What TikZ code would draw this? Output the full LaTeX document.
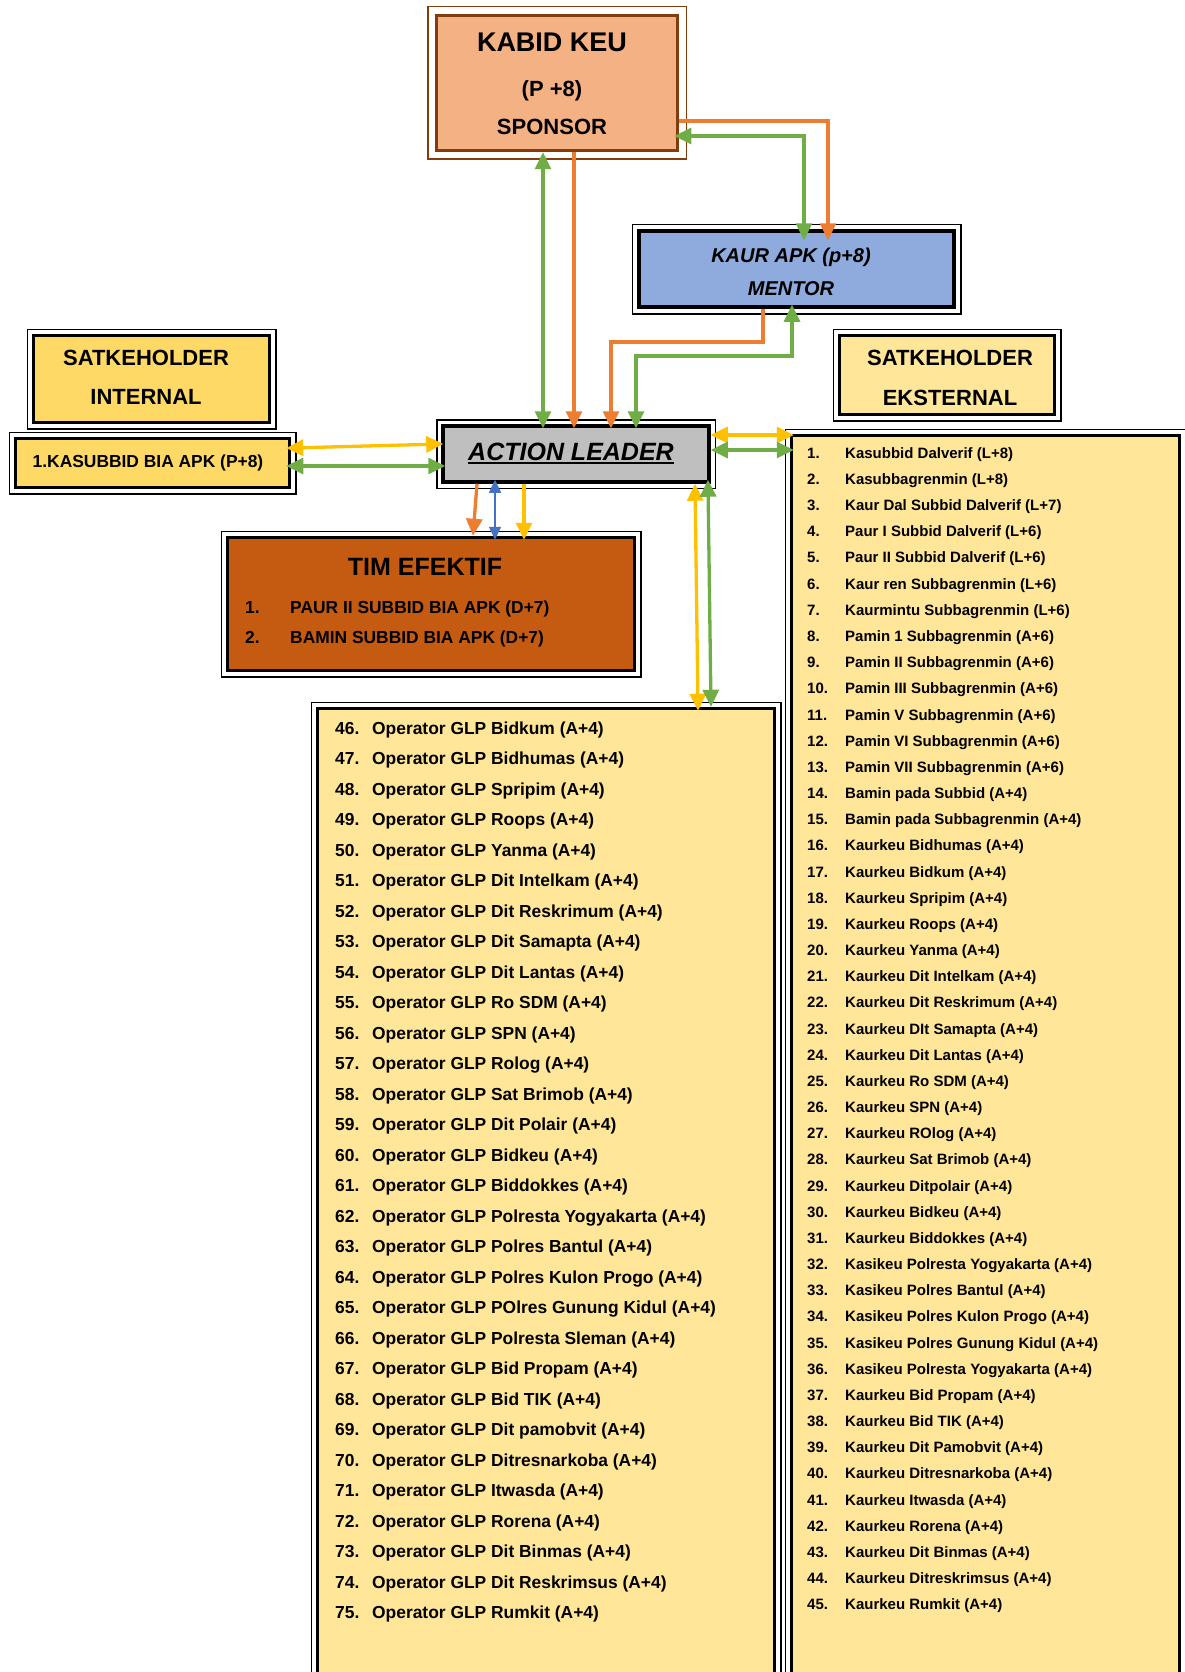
\documentclass[tikz,border=0pt]{standalone}
\usepackage{fontspec}
\setmainfont{Liberation Sans}
\usetikzlibrary{arrows.meta}

\definecolor{sponsorfill}{HTML}{F4B183}
\definecolor{sponsorline}{HTML}{843C0C}
\definecolor{mentorfill}{HTML}{8FAADC}
\definecolor{gold}{HTML}{FFD966}
\definecolor{cream}{HTML}{FFE699}
\definecolor{rust}{HTML}{C55A11}
\definecolor{lngreen}{HTML}{70AD47}
\definecolor{lnorange}{HTML}{ED7D31}
\definecolor{lnyellow}{HTML}{FFC000}
\definecolor{lnblue}{HTML}{4472C4}

\newcommand{\ulthick}[1]{\setbox0\hbox{#1}\rlap{\rule[-4pt]{\wd0}{2.5pt}}\box0}

\begin{document}
\begin{tikzpicture}[
  x=1pt, y=-1pt,
  >={Triangle[length=17pt,width=16pt]},
  box/.style={draw=black, line width=3.5pt, inner sep=0pt},
  frame/.style={line width=1.5pt},
  head/.style={font=\bfseries\fontsize{22}{26}\selectfont, anchor=base, inner sep=0pt},
  entry/.style={font=\bfseries\fontsize{17.4}{21}\selectfont, anchor=base west, inner sep=0pt},
  small/.style={font=\bfseries\fontsize{15}{18}\selectfont, anchor=base west, inner sep=0pt},
  greenln/.style={lngreen, line width=3.3pt},
  orangeln/.style={lnorange, line width=3.3pt},
  yellowln/.style={lnyellow, line width=3.3pt},
  blueln/.style={lnblue, line width=1.6pt, >={Triangle[length=13pt,width=12pt]}}
]
  \useasboundingbox (0,0) rectangle (1185,1672);
  \clip (0,0) rectangle (1185,1672);

  % Boxes (inner thick border); outer thin frames added below.
  \node[box, draw=sponsorline, fill=sponsorfill,
    minimum width=241pt, minimum height=135pt] (kabid) at (557,83) {};
  \node[box, fill=mentorfill, minimum width=315pt, minimum height=76pt] (kaur) at (796.5,269) {};
  \node[box, fill=gold, minimum width=236pt, minimum height=87pt] (internal) at (151.5,379) {};
  \node[box, fill=gold, minimum width=274pt, minimum height=49pt] (kasubbid) at (152.5,463) {};
  \node[box, fill=gray!50, minimum width=266pt, minimum height=56pt] (leader) at (576,454) {};
  \node[box, fill=cream, minimum width=215pt, minimum height=79pt] (eksternal) at (947,375) {};
  \node[box, fill=rust, minimum width=407pt, minimum height=133pt] (tim) at (431,604) {};
  \node[box, fill=cream, minimum width=457pt, minimum height=991.5pt] (operator) at (546,1204.25) {};
  \node[box, fill=cream, minimum width=388pt, minimum height=1264.5pt] (kaurkeu) at (985.5,1067.75) {};

  \foreach \b/\g/\c in {kabid/7/sponsorline, kaur/5/black, internal/4.5/black,
      kasubbid/4.5/black, leader/4.5/black, eksternal/4.5/black, tim/4.5/black,
      operator/4.5/black, kaurkeu/4.5/black}
    \draw[frame, draw=\c] ([shift={(-\g,-\g)}]\b.north west) rectangle ([shift={(\g,\g)}]\b.south east);

  % Titles
  \node[head, font=\bfseries\fontsize{27}{30}\selectfont] (kabidname) at (552,51.5) {KABID KEU};
  \node[head] (kabidrank) at (552,97) {(P +8)};
  \node[head] (kabidrole) at (552,135) {SPONSOR};
  \node[head, font=\bfseries\itshape\fontsize{20}{24}\selectfont] (kaurname) at (791,262) {KAUR APK (p+8)};
  \node[head, font=\bfseries\itshape\fontsize{20}{24}\selectfont] (kaurrole) at (791,295) {MENTOR};
  \node[head] (internalname) at (146,365) {SATKEHOLDER};
  \node[head] (internalrole) at (146,404) {INTERNAL};
  \node[head] (eksternalname) at (950,365) {SATKEHOLDER};
  \node[head] (eksternalrole) at (950,405) {EKSTERNAL};
  \node[head, font=\bfseries\fontsize{17.4}{21}\selectfont] (kasubbidname) at (148,467) {1.KASUBBID BIA APK (P+8)};
  \node[head, font=\bfseries\itshape\fontsize{25}{29}\selectfont] (leadername) at (571,460) {\ulthick{ACTION LEADER}};
  \node[head, font=\bfseries\fontsize{25}{29}\selectfont] (timname) at (425,575) {TIM EFEKTIF};
  \node[entry] (timnum1) at (245,613) {1.};
  \node[entry] (timitem1) at (290,613) {PAUR II SUBBID BIA APK (D+7)};
  \node[entry] (timnum2) at (245,643) {2.};
  \node[entry] (timitem2) at (290,643) {BAMIN SUBBID BIA APK (D+7)};

  % Operator list
  \foreach \idx/\who in {46/Bidkum, 47/Bidhumas, 48/Spripim, 49/Roops, 50/Yanma,
      51/Dit Intelkam, 52/Dit Reskrimum, 53/Dit Samapta, 54/Dit Lantas, 55/Ro SDM,
      56/SPN, 57/Rolog, 58/Sat Brimob, 59/Dit Polair, 60/Bidkeu, 61/Biddokkes,
      62/Polresta Yogyakarta, 63/Polres Bantul, 64/Polres Kulon Progo,
      65/POlres Gunung Kidul, 66/Polresta Sleman, 67/Bid Propam, 68/Bid TIK,
      69/Dit pamobvit, 70/Ditresnarkoba, 71/Itwasda, 72/Rorena, 73/Dit Binmas,
      74/Dit Reskrimsus, 75/Rumkit} {
    \node[entry] (opnum\idx) at (335,{734+(\idx-46)*30.5}) {\idx.};
    \node[entry] (op\idx) at (372,{734+(\idx-46)*30.5}) {Operator GLP \who{} (A+4)};
  }

  % External stakeholder list
  \foreach \idx/\who in {1/Kasubbid Dalverif (L+8), 2/Kasubbagrenmin (L+8),
      3/Kaur Dal Subbid Dalverif (L+7), 4/Paur I Subbid Dalverif (L+6),
      5/Paur II Subbid Dalverif (L+6), 6/Kaur ren Subbagrenmin (L+6),
      7/Kaurmintu Subbagrenmin (L+6), 8/Pamin 1 Subbagrenmin (A+6),
      9/Pamin II Subbagrenmin (A+6), 10/Pamin III Subbagrenmin (A+6),
      11/Pamin V Subbagrenmin (A+6), 12/Pamin VI Subbagrenmin (A+6),
      13/Pamin VII Subbagrenmin (A+6), 14/Bamin pada Subbid (A+4),
      15/Bamin pada Subbagrenmin (A+4), 16/Kaurkeu Bidhumas (A+4),
      17/Kaurkeu Bidkum (A+4), 18/Kaurkeu Spripim (A+4), 19/Kaurkeu Roops (A+4),
      20/Kaurkeu Yanma (A+4), 21/Kaurkeu Dit Intelkam (A+4),
      22/Kaurkeu Dit Reskrimum (A+4), 23/Kaurkeu DIt Samapta (A+4),
      24/Kaurkeu Dit Lantas (A+4), 25/Kaurkeu Ro SDM (A+4), 26/Kaurkeu SPN (A+4),
      27/Kaurkeu ROlog (A+4), 28/Kaurkeu Sat Brimob (A+4),
      29/Kaurkeu Ditpolair (A+4), 30/Kaurkeu Bidkeu (A+4),
      31/Kaurkeu Biddokkes (A+4), 32/Kasikeu Polresta Yogyakarta (A+4),
      33/Kasikeu Polres Bantul (A+4), 34/Kasikeu Polres Kulon Progo (A+4),
      35/Kasikeu Polres Gunung Kidul (A+4), 36/Kasikeu Polresta Yogyakarta (A+4),
      37/Kaurkeu Bid Propam (A+4), 38/Kaurkeu Bid TIK (A+4),
      39/Kaurkeu Dit Pamobvit (A+4), 40/Kaurkeu Ditresnarkoba (A+4),
      41/Kaurkeu Itwasda (A+4), 42/Kaurkeu Rorena (A+4),
      43/Kaurkeu Dit Binmas (A+4), 44/Kaurkeu Ditreskrimsus (A+4),
      45/Kaurkeu Rumkit (A+4)} {
    \node[small] (extnum\idx) at (807,{458.3+(\idx-1)*26.17}) {\idx.};
    \node[small] (ext\idx) at (845,{458.3+(\idx-1)*26.17}) {\who};
  }

  % Connectors
  \draw[greenln,<->,shorten >=-4pt] (543,0 |- kabid.south) -- (543,0 |- leader.north);
  \draw[orangeln,->,shorten >=-4pt] (574,0 |- kabid.south) -- (574,0 |- leader.north);
  \draw[orangeln,->,shorten >=-11pt] (kabid.east |- 0,121) -| (828,0 |- kaur.north);
  \draw[greenln,<->,shorten <=-5pt,shorten >=-11pt] (kabid.east |- 0,136) -| (804,0 |- kaur.north);
  \draw[orangeln,->,shorten >=-4pt] (763,0 |- kaur.south) |- (611,342) -- (611,0 |- leader.north);
  \draw[greenln,<->,shorten <=-4pt,shorten >=-4pt] (636,0 |- leader.north) |- (792,356) -- (792,0 |- kaur.south);

  \draw[yellowln,<->,shorten <=-5pt,shorten >=-2pt] (kasubbid.east |- 0,448) -- (leader.west |- 0,444);
  \draw[greenln,<->,shorten <=-5pt,shorten >=-4pt] (kasubbid.east |- 0,466) -- (leader.west |- 0,466);
  \draw[yellowln,<->,shorten >=-4pt] (leader.east |- 0,435) -- (kaurkeu.west |- 0,435);
  \draw[greenln,<->,shorten >=-4pt] (leader.east |- 0,450) -- (kaurkeu.west |- 0,450);

  \draw[orangeln,->] (477,0 |- leader.south) -- (473,0 |- tim.north);
  \draw[blueln,<->,shorten <=-4pt,shorten >=-4pt] (495,0 |- leader.south) -- (495,0 |- tim.north);
  \draw[yellowln,->,shorten >=-4pt] (524,0 |- leader.south) -- (524,0 |- tim.north);
  \draw[yellowln,<->,shorten >=-4pt] (695,0 |- leader.south) -- (698,0 |- operator.north);
  \draw[greenln,<->,shorten <=-4pt] (708,0 |- leader.south) -- (711,0 |- operator.north);
\end{tikzpicture}
\end{document}
